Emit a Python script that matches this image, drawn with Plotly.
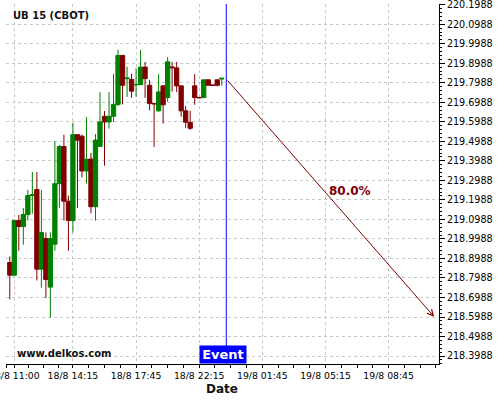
import plotly.graph_objects as go

# ---- data (15-minute bars, index 0 = 18/8 11:00) ----
bar_index = list(range(-1, 47))
opens = [218.878, 218.813, 219.093, 219.062, 219.124, 219.221, 219.252, 218.844, 219.001, 218.752,
         218.972, 219.282, 219.472, 219.192, 219.093, 219.533, 219.525, 219.347, 219.408, 219.164,
         219.473, 219.627, 219.598, 219.627, 219.688, 219.939, 219.820, 219.816, 219.788, 219.789,
         219.879, 219.786, 219.693, 219.655, 219.783, 219.723, 219.880, 219.875, 219.783, 219.655,
         219.596, 219.783, 219.724, 219.723, 219.814, 219.787, 219.814, 219.818]
highs = [218.909, 219.093, 219.122, 219.158, 219.250, 219.342, 219.342, 219.250, 219.032, 219.032,
         219.499, 219.480, 219.533, 219.221, 219.594, 219.533, 219.533, 219.623, 219.440, 219.536,
         219.751, 219.654, 219.751, 219.845, 219.968, 219.939, 219.881, 219.845, 219.873, 219.968,
         219.905, 219.814, 219.693, 219.843, 219.785, 219.931, 219.906, 219.906, 219.783, 219.680,
         219.655, 219.843, 219.724, 219.814, 219.814, 219.787, 219.814, 219.822]
lows = [218.688, 218.810, 218.938, 218.969, 219.093, 219.127, 218.786, 218.748, 218.695, 218.595,
        218.938, 219.158, 219.093, 218.938, 219.032, 219.158, 219.313, 219.282, 219.130, 219.093,
        219.470, 219.374, 219.564, 219.598, 219.680, 219.688, 219.727, 219.722, 219.727, 219.789,
        219.722, 219.657, 219.470, 219.650, 219.590, 219.701, 219.754, 219.752, 219.624, 219.566,
        219.557, 219.686, 219.720, 219.723, 219.786, 219.786, 219.780, 219.784]
closes = [218.813, 219.093, 219.062, 219.124, 219.221, 219.225, 218.844, 219.032, 218.791, 219.001,
          219.282, 219.472, 219.192, 219.093, 219.533, 219.505, 219.347, 219.407, 219.164, 219.505,
          219.598, 219.598, 219.627, 219.688, 219.939, 219.786, 219.823, 219.756, 219.790, 219.879,
          219.820, 219.692, 219.691, 219.752, 219.686, 219.906, 219.876, 219.783, 219.655, 219.597,
          219.566, 219.723, 219.722, 219.814, 219.786, 219.786, 219.786, 219.822]

tick_index = [0, 13, 27, 41, 55, 69, 83]
tick_labels = ["18/8 11:00", "18/8 14:15", "18/8 17:45", "18/8 22:15",
               "19/8 01:45", "19/8 05:15", "19/8 08:45"]
price_ticks = [round(218.3988 + 0.1 * i, 4) for i in range(19)]

event_index = 47
forecast_start_price = 219.818
target_index = 93.1
target_price = 218.60
probability_label = "80.0%"
label_index = 74.4
label_price = 219.243

symbol = "UB 15 (CBOT)"

# minor x ticks: quarter steps between labelled ticks
minor_x = [-1.7]
for a, b in zip(tick_index[:-1], tick_index[1:]):
    step = (b - a) / 4
    minor_x += [a + step * k for k in (1, 2, 3)]
minor_x += [83 + 3.5 * k for k in (1, 2, 3)]

GREEN = "#008000"
RED = "#800000"
FONT = "DejaVu Sans"

fig = go.Figure()
fig.add_trace(go.Candlestick(
    x=bar_index, open=opens, high=highs, low=lows, close=closes,
    increasing=dict(line=dict(color=GREEN, width=1), fillcolor=GREEN),
    decreasing=dict(line=dict(color=RED, width=1), fillcolor=RED),
    whiskerwidth=0, showlegend=False, hoverinfo="skip",
))

# event line
fig.add_shape(type="line", xref="x", yref="paper", x0=event_index, x1=event_index,
              y0=0, y1=1, line=dict(color="#0000ff", width=1))

# forecast arrow
fig.add_annotation(x=target_index, y=target_price, ax=event_index, ay=forecast_start_price,
                   xref="x", yref="y", axref="x", ayref="y", text="", showarrow=True,
                   arrowhead=5, arrowsize=1.2, arrowwidth=1, arrowcolor=RED)
fig.add_annotation(x=label_index, y=label_price, xref="x", yref="y", text="<b>" + probability_label + "</b>",
                   showarrow=False, font=dict(family=FONT, size=12, color=RED))

# event label
fig.add_annotation(x=46.3, y=0, xref="x", yref="paper", yanchor="bottom", text="<b>Event</b>",
                   showarrow=False, bgcolor="#0000ff", font=dict(family=FONT, size=13, color="white"),
                   width=44, height=15, borderpad=1)

# title, watermark, axis title
fig.add_annotation(x=0.011, y=0.968, xref="paper", yref="paper", xanchor="left", yanchor="middle",
                   text="<b>" + symbol + "</b>", showarrow=False,
                   font=dict(family=FONT, size=10, color="#111111"))
fig.add_annotation(x=0.021, y=0.029, xref="paper", yref="paper", xanchor="left", yanchor="middle",
                   text="<b>www.delkos.com</b>", showarrow=False,
                   font=dict(family=FONT, size=10, color="#111111"))
fig.add_annotation(x=0.4988, y=-0.0708, xref="paper", yref="paper", xanchor="center", yanchor="middle",
                   text="<b>Date</b>", showarrow=False,
                   font=dict(family=FONT, size=12, color="#111111"))

grid = dict(gridcolor="#c8c8c8", gridwidth=1, griddash="3px,3px")

fig.update_layout(
    width=500, height=400,
    margin=dict(l=6, r=61, t=4, b=36, autoexpand=False),
    paper_bgcolor="white", plot_bgcolor="white",
    boxgap=0.05, boxgroupgap=0,
    font=dict(family=FONT, color="#000000"),
    xaxis=dict(
        range=[-1.84, 94.17], rangeslider=dict(visible=False),
        tickmode="array", tickvals=tick_index, ticktext=tick_labels,
        ticks="outside", ticklen=3, tickcolor="black", ticklabeloverflow="allow",
        tickfont=dict(family=FONT, size=9.3, color="black"),
        showline=True, linecolor="black", linewidth=1, zeroline=False,
        showgrid=True, **grid,
        minor=dict(tickmode="array", tickvals=minor_x, ticks="outside", ticklen=3,
                   tickcolor="black", showgrid=False),
    ),
    yaxis=dict(
        range=[218.358, 220.2024], side="right",
        tickmode="array", tickvals=price_ticks, ticktext=[f"{v:.4f}" for v in price_ticks],
        ticks="outside", ticklen=5, tickcolor="black", ticklabeloverflow="allow",
        tickfont=dict(family=FONT, size=9.6, color="black"),
        showline=True, linecolor="black", linewidth=1, zeroline=False,
        showgrid=True, **grid,
        minor=dict(tickmode="linear", tick0=218.3988, dtick=0.02, ticks="outside", ticklen=2,
                   tickcolor="black", showgrid=False),
    ),
)

fig.write_html("out.html", config={"displayModeBar": False, "staticPlot": True},
               post_script="document.body.style.margin='0px';document.body.style.overflow='hidden';")
